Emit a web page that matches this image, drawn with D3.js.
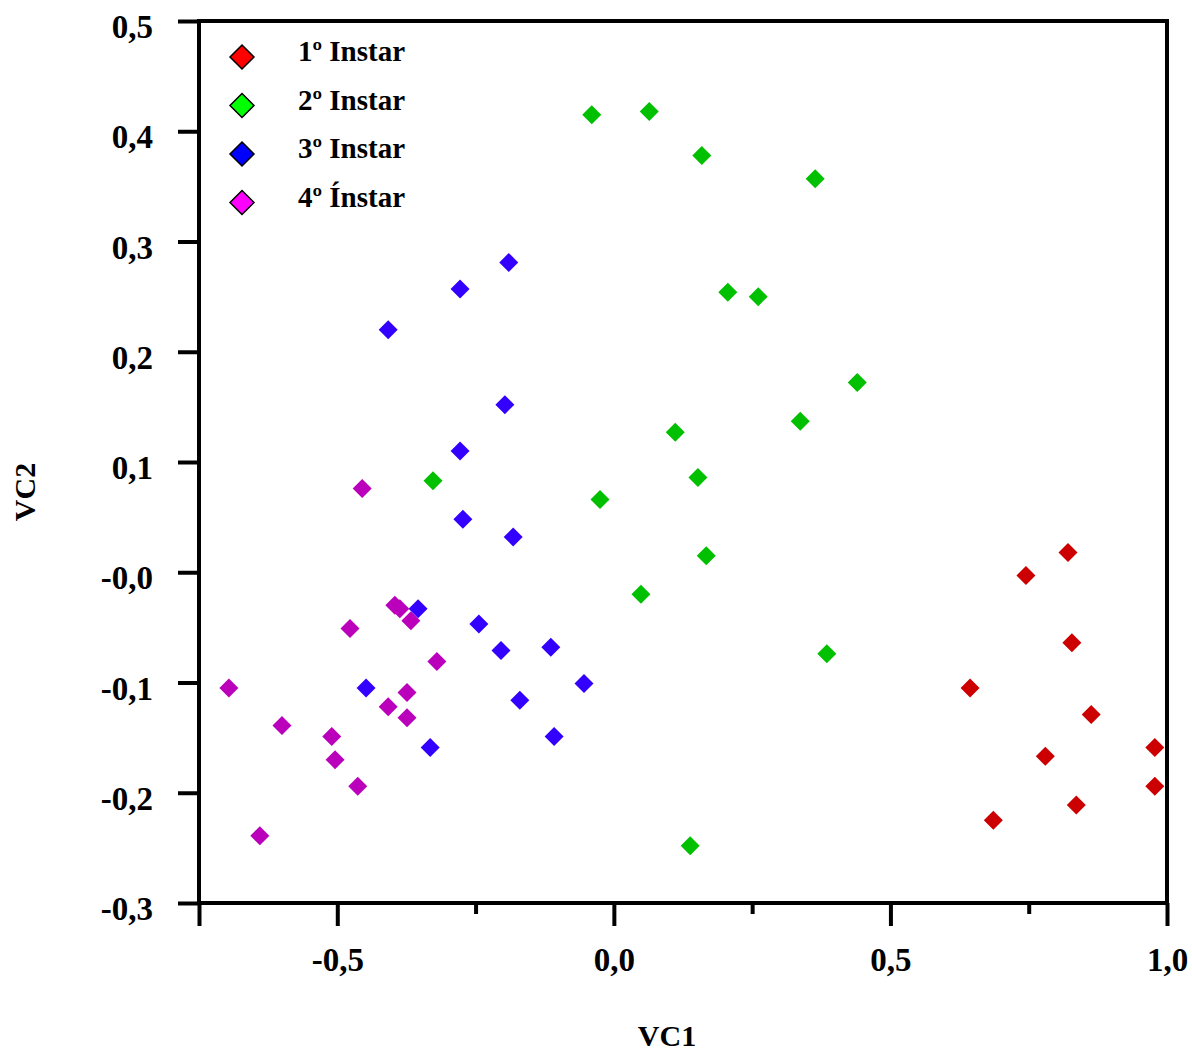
<!DOCTYPE html>
<html lang="pt">
<head>
  <meta charset="UTF-8">
  <title>VC1 x VC2</title>
  <script src="https://d3js.org/d3.v7.min.js"></script>
  <style>
    body {
      margin: 0;
      background: #fff;
    }

    text {
      font-family: "Liberation Serif", "Times New Roman", serif;
      font-weight: bold;
      fill: #000;
    }

    .axis line {
      stroke: #000;
      stroke-width: 4px;
    }

    .axis path {
      display: none;
    }
  </style>
</head>
<body>
  <div id="chart"></div>

  <script>
    // grupos
    const series = ["1º Instar", "2º Instar", "3º Instar", "4º Ínstar"];
    const pointColors = ["#cc0000", "#00c000", "#3300ff", "#bb00bb"];
    const legendColors = ["#ff0000", "#00ff00", "#0000ff", "#ff00ff"];

    // valores
    const inst1X = [0.821, 0.745, 0.828, 0.644, 0.863, 0.780, 0.978, 0.978, 0.836, 0.686];
    const inst1Y = [0.018, -0.003, -0.064, -0.105, -0.129, -0.167, -0.159, -0.194, -0.211, -0.225];

    const inst2X = [-0.040, 0.064, 0.159, 0.364, 0.206, 0.261, 0.440, 0.337, 0.111, -0.327, 0.152, -0.025, 0.167, 0.049, 0.385, 0.138];
    const inst2Y = [0.415, 0.418, 0.378, 0.357, 0.254, 0.250, 0.172, 0.137, 0.127, 0.083, 0.086, 0.066, 0.015, -0.020, -0.074, -0.248];

    const inst3X = [-0.190, -0.278, -0.408, -0.197, -0.278, -0.273, -0.182, -0.354, -0.244, -0.204, -0.114, -0.448, -0.170, -0.054, -0.332, -0.108];
    const inst3Y = [0.281, 0.257, 0.220, 0.152, 0.110, 0.048, 0.032, -0.033, -0.047, -0.071, -0.068, -0.105, -0.116, -0.101, -0.159, -0.149];

    const inst4X = [-0.455, -0.396, -0.387, -0.367, -0.477, -0.320, -0.696, -0.374, -0.408, -0.374, -0.600, -0.510, -0.504, -0.463, -0.640];
    const inst4Y = [0.076, -0.030, -0.033, -0.044, -0.051, -0.081, -0.105, -0.109, -0.122, -0.132, -0.139, -0.149, -0.170, -0.194, -0.239];

    // eixos
    const yTicks = [0.5, 0.4, 0.3, 0.2, 0.1, 0.0, -0.1, -0.2, -0.3];
    const yTickLabels = ["0,5", "0,4", "0,3", "0,2", "0,1", "-0,0", "-0,1", "-0,2", "-0,3"];
    const xMajor = [-0.75, -0.5, 0.0, 0.5, 1.0];
    const xMajorLabels = ["", "-0,5", "0,0", "0,5", "1,0"];
    const xMinor = [-0.25, 0.25, 0.75];

    const allX = [inst1X, inst2X, inst3X, inst4X];
    const allY = [inst1Y, inst2Y, inst3Y, inst4Y];

    const width = 1192;
    const height = 1055;
    const plotLeft = 199, plotRight = 1167, plotTop = 21, plotBottom = 903;

    const svg = d3.select("#chart")
      .append("svg")
      .attr("width", width)
      .attr("height", height);

    const x = d3.scaleLinear().domain([-0.75, 1.0]).range([plotLeft, plotRight]);
    const y = d3.scaleLinear().domain([-0.3, 0.5]).range([plotBottom, plotTop]);

    // eixo y
    const yAxis = svg.append("g")
      .attr("class", "axis")
      .attr("transform", `translate(${plotLeft},0)`)
      .call(d3.axisLeft(y)
        .tickValues(yTicks)
        .tickSize(21)
        .tickPadding(25)
        .tickFormat((d, i) => yTickLabels[i]));
    yAxis.selectAll("text")
      .style("font-size", "33px")
      .attr("dy", "0.5em");

    // eixo x
    const xAxis = svg.append("g")
      .attr("class", "axis")
      .attr("transform", `translate(0,${plotBottom})`)
      .call(d3.axisBottom(x)
        .tickValues(xMajor)
        .tickSize(23)
        .tickPadding(20)
        .tickFormat((d, i) => xMajorLabels[i]));
    xAxis.selectAll("text")
      .style("font-size", "33px")
      .attr("dy", "0.75em");

    svg.append("g")
      .attr("class", "axis")
      .attr("transform", `translate(0,${plotBottom})`)
      .call(d3.axisBottom(x)
        .tickValues(xMinor)
        .tickSize(11)
        .tickFormat(""));

    // moldura
    svg.append("rect")
      .attr("x", plotLeft)
      .attr("y", plotTop)
      .attr("width", plotRight - plotLeft)
      .attr("height", plotBottom - plotTop)
      .attr("fill", "none")
      .attr("stroke", "#000")
      .attr("stroke-width", 4);

    const diamond = r => `M0,${-r}L${r},0L0,${r}L${-r},0Z`;

    // pontos
    series.forEach((name, s) => {
      svg.append("g")
        .selectAll("path")
        .data(allX[s].map((v, i) => [v, allY[s][i]]))
        .enter()
        .append("path")
        .attr("d", diamond(9.5))
        .attr("transform", d => `translate(${x(d[0])},${y(d[1])})`)
        .attr("fill", pointColors[s]);
    });

    // legenda
    const legend = svg.append("g")
      .selectAll("g")
      .data(series)
      .enter()
      .append("g")
      .attr("transform", (d, i) => `translate(242,${57 + i * 48.5})`);

    legend.append("path")
      .attr("d", diamond(12))
      .attr("fill", (d, i) => legendColors[i])
      .attr("stroke", "#000")
      .attr("stroke-width", 1.5);

    legend.append("text")
      .attr("x", 56)
      .attr("y", 4)
      .style("font-size", "29px")
      .text(d => d);

    // títulos
    svg.append("text")
      .attr("x", 667)
      .attr("y", 1046)
      .attr("text-anchor", "middle")
      .style("font-size", "30px")
      .text("VC1");

    svg.append("text")
      .attr("transform", "translate(35,492) rotate(-90)")
      .attr("text-anchor", "middle")
      .style("font-size", "30px")
      .text("VC2");
  </script>
</body>
</html>
